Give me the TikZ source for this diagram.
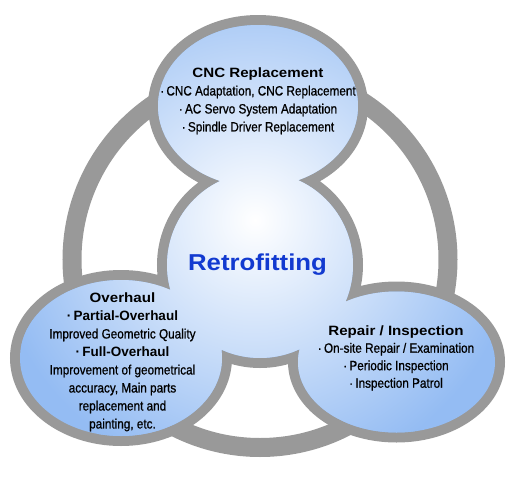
\documentclass[tikz,border=0pt]{standalone}
\usepackage{fontspec}
\setmainfont{Liberation Sans}
\newfontfamily\headfont[FakeStretch=1.12]{Liberation Sans}
\newfontfamily\bodyfont[FakeStretch=0.87,FakeBold=0.8]{Liberation Sans}
\definecolor{ringgray}{RGB}{153,153,153}
\definecolor{blobblue}{RGB}{148,188,243}
\definecolor{retroblue}{RGB}{18,58,208}
\newcommand{\blobpath}{(258,106) ellipse [x radius=100,y radius=81]
  (260,265) circle (93)
  (121,358) ellipse [x radius=101,y radius=78]
  (396.5,362) ellipse [x radius=98.5,y radius=70.5]}

\begin{document}
\begin{tikzpicture}[x=1pt,y=-1pt]
  \tikzstyle{txt}=[align=center,inner sep=0pt,font=\bodyfont\fontsize{13.5}{18}\selectfont]
  \tikzstyle{head}=[font=\headfont\bfseries]
  \useasboundingbox (0,0) rectangle (520,477);
  % big ring behind
  \draw[ringgray,line width=19pt] (260,259.5) circle (188);
  % border, then fill of the four shapes
  \path[fill=ringgray,draw=ringgray,line width=20pt] \blobpath;
  \path[fill=blobblue] \blobpath;
  \begin{scope}
    \clip \blobpath;
    \shade[inner color=white,outer color=blobblue] (255,220) circle (265);
  \end{scope}
  \node[txt] (cnc) at (258,101) {{\headfont\bfseries CNC Replacement}\\
    ·\,CNC Adaptation, CNC Replacement\\
    ·\,AC Servo System Adaptation\\
    ·\,Spindle Driver Replacement};
  \node[head,text=retroblue,font=\headfont\bfseries\fontsize{23}{28}\selectfont] (retro) at (257.5,265) {Retrofitting};
  \node[txt] (overhaul) at (122.5,362) {{\headfont\bfseries Overhaul}\\
    {\bfseries\rmfamily ·\,Partial-Overhaul}\\
    Improved Geometric Quality\\
    {\bfseries\rmfamily ·\,Full-Overhaul}\\
    Improvement of geometrical\\
    accuracy, Main parts\\
    replacement and\\
    painting, etc.};
  \node[txt,font=\bodyfont\fontsize{13.5}{17.5}\selectfont] (repair) at (396,358) {{\headfont\bfseries Repair / Inspection}\\
    ·\,On-site Repair / Examination\\
    ·\,Periodic Inspection\\
    ·\,Inspection Patrol};
\end{tikzpicture}
\end{document}
